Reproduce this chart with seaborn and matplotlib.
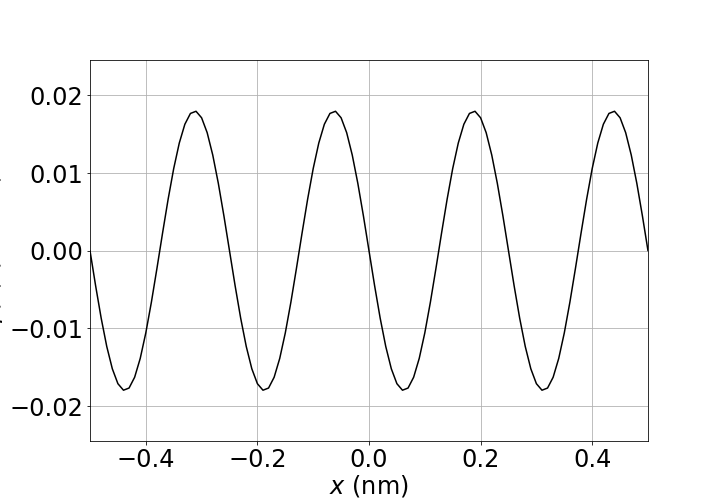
import matplotlib
matplotlib.use("Agg")
import matplotlib.pyplot as plt
import seaborn as sns
import numpy as np
import pandas as pd

# one period of values (25 samples)
period_vals = [0.0, -0.00448, -0.00867, -0.01232, -0.01520, -0.01712, -0.01796,
               -0.01768, -0.01629, -0.01387, -0.01058, -0.00663, -0.00226,
               0.00226, 0.00663, 0.01058, 0.01387, 0.01629, 0.01768, 0.01796,
               0.01712, 0.01520, 0.01232, 0.00867, 0.00448]
y_vals = period_vals * 4 + [0.0]
x_vals = [round(-0.5 + 0.01 * i, 2) for i in range(len(y_vals))]

xticks = [-0.4, -0.2, 0.0, 0.2, 0.4]
yticks = [-0.02, -0.01, 0.00, 0.01, 0.02]

df = pd.DataFrame({"x": x_vals, "y": y_vals})

sns.set_style("white")
plt.rcParams['font.family'] = ['DejaVu Sans']
plt.rcParams.update({"text.color": "black", "axes.labelcolor": "black",
                     "xtick.color": "black", "ytick.color": "black"})
fig, ax = plt.subplots(figsize=(10, 7), dpi=72)
fig.subplots_adjust(left=0.125, right=0.9, top=0.88, bottom=0.125)

sns.lineplot(data=df, x="x", y="y", color="black", linewidth=1.5, ax=ax)
ax.set_xlim(-0.5, 0.5)
ax.set_ylim(-0.0245, 0.0245)
ax.set_xticks(xticks)
ax.set_yticks(yticks)
ax.set_yticklabels([f"{v:.2f}".replace("-", "\u2212") for v in yticks])
ax.set_xticklabels([f"{v:.1f}".replace("-", "\u2212") for v in xticks])
ax.tick_params(labelsize=24, length=3.5, width=0.8, left=True, bottom=True,
               colors="black", labelcolor="black")
ax.grid(True, color="#b0b0b0", linewidth=0.8)
for s in ax.spines.values():
    s.set_color("black")
    s.set_linewidth(0.8)
ax.set_xlabel("$x$ (nm)", fontsize=24, labelpad=1, color="black")
ax.set_ylabel("$\\psi(x)$ (nm$^{-1/2}$)", fontsize=24, labelpad=2, color="black")

fig.savefig("out.png", dpi=72)
